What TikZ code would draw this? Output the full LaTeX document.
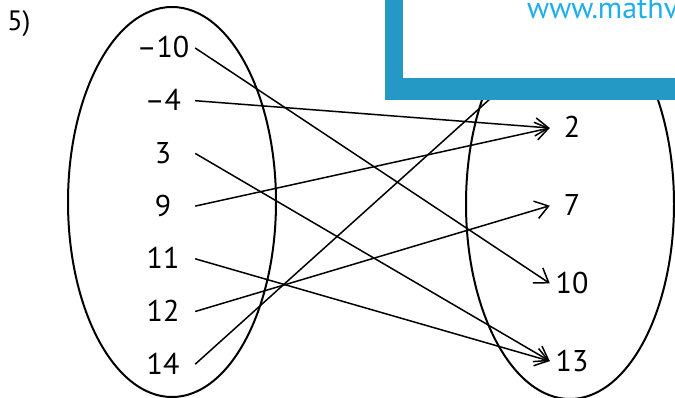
\documentclass[tikz,border=0pt]{standalone}
\usepackage{fontspec}
\setmainfont{PT Sans}
\usepackage{xcolor}
\usetikzlibrary{arrows.meta,positioning,shapes.geometric}
\definecolor{azulMoldura}{HTML}{2499C6}
\definecolor{azulLink}{HTML}{1FAEEA}
\tikzset{
    conjunto/.style={
        ellipse,
        draw,
        line width=2pt,
        minimum width=208pt,
        minimum height=390pt,
        inner sep=0pt
    },
    elemento/.style={
        inner sep=0pt,
        align=center,
        text height=20pt,
        text depth=0pt,
        font=\fontsize{30}{30}\selectfont
    },
    origem/.style={elemento, minimum width=64pt},
    imagem/.style={elemento, minimum width=44pt},
    seta/.style={-{Straight Barb[length=13pt,width=18pt]}, line width=1.5pt}
}

\begin{document}
\begin{tikzpicture}[x=1pt, y=-1pt, node distance=32.3pt]
    \useasboundingbox (0,0) rectangle (675,398);
    \clip (0,0) rectangle (675,398);
    \node[font=\fontsize{28}{28}\selectfont, inner sep=0pt] (numero) at (19,24) {5)};
    \node[conjunto] (dominio) at (172,202) {};
    \node[conjunto] (contradominio) at (570,204) {};
    % dominio
    \node[origem] (a1) at (163,48) {–10};
    \node[origem, below=of a1] (a2) {–4};
    \node[origem, below=of a2] (a3) {3};
    \node[origem, below=of a3] (a4) {9};
    \node[origem, below=of a4] (a5) {11};
    \node[origem, below=of a5] (a6) {12};
    \node[origem, below=of a6] (a7) {14};
    % contradominio
    \node[imagem] (b2) at (572,128) {2};
    \node[imagem, below=57.3pt of b2] (b7) {7};
    \node[imagem, below=57.3pt of b7] (b10) {10};
    \node[imagem, below=57.3pt of b10] (b13) {13};
    \coordinate (oculto) at (531,62);
    \draw[seta] (a1.east) -- (b10.west);
    \draw[seta] (a2.east) -- (b2.west);
    \draw[seta] (a3.east) -- (b13.west);
    \draw[seta] (a4.east) -- (b2.west);
    \draw[seta] (a5.east) -- (b13.west);
    \draw[seta] (a6.east) -- (b7.west);
    \draw[line width=1.5pt] (a7.east) -- (oculto);
    % moldura
    \fill[azulMoldura] (385,-10) rectangle (690,100);
    \fill[white] (403,-10) rectangle (690,78);
    \node[anchor=base west, inner sep=0pt, text=azulLink,
        font=\fontsize{30}{30}\selectfont] (site) at (527,19) {www.mathv};
\end{tikzpicture}
\end{document}
